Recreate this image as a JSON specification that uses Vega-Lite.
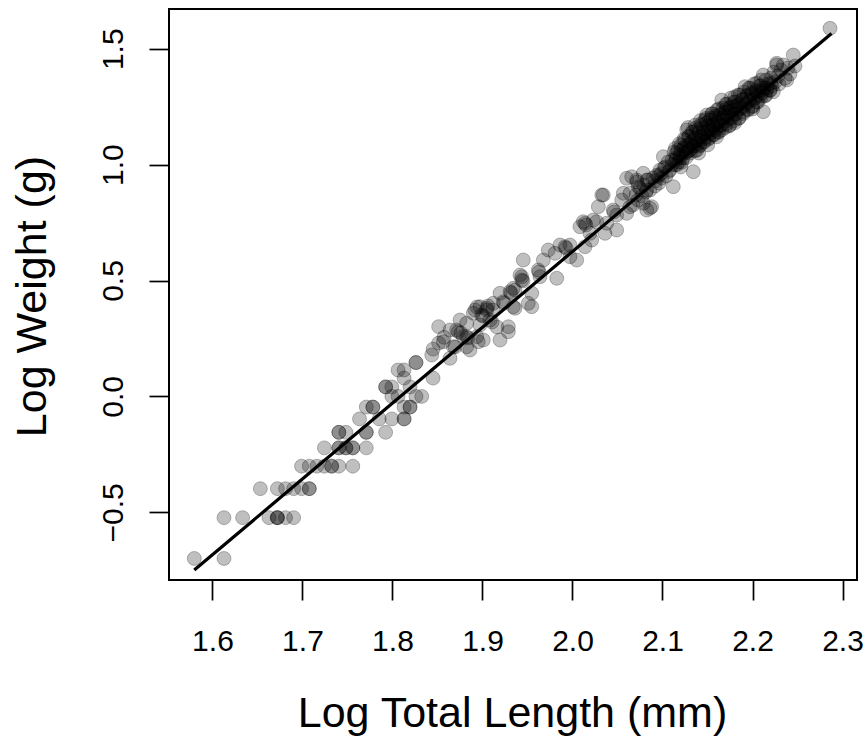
{
  "$schema": "https://vega.github.io/schema/vega-lite/v6.json",
  "width": 688,
  "height": 571,
  "autosize": {"type": "none"},
  "padding": {"left": 169, "top": 9, "right": 9, "bottom": 157},
  "background": "white",
  "config": {
    "font": "Liberation Sans",
    "view": {"stroke": "black", "strokeWidth": 2}
  },
  "datasets": {
    "pts": [
      {"x":1.5798,"y":-0.699},{"x":1.6128,"y":-0.699},
      {"x":1.6128,"y":-0.523},{"x":1.6335,"y":-0.523},{"x":1.6628,"y":-0.523},{"x":1.6721,"y":-0.523},{"x":1.6721,"y":-0.523},{"x":1.6721,"y":-0.523},{"x":1.6812,"y":-0.523},{"x":1.6902,"y":-0.523},
      {"x":1.6532,"y":-0.398},{"x":1.6721,"y":-0.398},{"x":1.6812,"y":-0.398},{"x":1.6902,"y":-0.398},{"x":1.699,"y":-0.398},{"x":1.7076,"y":-0.398},{"x":1.7076,"y":-0.398},
      {"x":1.699,"y":-0.301},{"x":1.7076,"y":-0.301},{"x":1.716,"y":-0.301},{"x":1.7243,"y":-0.301},{"x":1.7324,"y":-0.301},{"x":1.7324,"y":-0.301},{"x":1.7404,"y":-0.301},{"x":1.7559,"y":-0.301},
      {"x":1.7243,"y":-0.222},{"x":1.7404,"y":-0.222},{"x":1.7404,"y":-0.222},{"x":1.7482,"y":-0.222},{"x":1.7482,"y":-0.222},{"x":1.7559,"y":-0.222},{"x":1.7559,"y":-0.222},{"x":1.7709,"y":-0.222},
      {"x":1.7404,"y":-0.155},{"x":1.7404,"y":-0.155},{"x":1.7482,"y":-0.155},{"x":1.7709,"y":-0.155},{"x":1.7709,"y":-0.155},{"x":1.7924,"y":-0.155},
      {"x":1.7634,"y":-0.097},{"x":1.7853,"y":-0.097},{"x":1.7993,"y":-0.097},{"x":1.8129,"y":-0.097},{"x":1.8129,"y":-0.097},
      {"x":1.7709,"y":-0.046},{"x":1.7782,"y":-0.046},{"x":1.7782,"y":-0.046},{"x":1.8129,"y":-0.046},{"x":1.8195,"y":-0.046},{"x":1.8195,"y":-0.046},
      {"x":1.7993,"y":0},{"x":1.8062,"y":0},{"x":1.8261,"y":0},{"x":1.8325,"y":0},
      {"x":1.7924,"y":0.041},{"x":1.7924,"y":0.041},{"x":1.7993,"y":0.041},{"x":1.8195,"y":0.041},
      {"x":1.8129,"y":0.079},{"x":1.8451,"y":0.079},
      {"x":1.8062,"y":0.114},{"x":1.8129,"y":0.114},
      {"x":1.8261,"y":0.146},{"x":1.8261,"y":0.146},
      {"x":1.8451,"y":0.204},{"x":1.8513,"y":0.23},{"x":1.8573,"y":0.255},{"x":1.8513,"y":0.301},
      {"x":1.8436,"y":0.1786},{"x":1.8565,"y":0.236},{"x":1.8639,"y":0.1644},{"x":1.8676,"y":0.2144},{"x":1.8695,"y":0.2131},{"x":1.875,"y":0.3296},{"x":1.8731,"y":0.2791},{"x":1.8761,"y":0.2735},{"x":1.8824,"y":0.2576},{"x":1.8839,"y":0.2519},{"x":1.8861,"y":0.2002},{"x":1.8953,"y":0.236},{"x":1.8917,"y":0.3727},{"x":1.8991,"y":0.3512},{"x":1.9006,"y":0.3469},{"x":1.9047,"y":0.3801},{"x":1.9061,"y":0.39},{"x":1.9083,"y":0.3296},{"x":1.9106,"y":0.321},{"x":1.9195,"y":0.2433},{"x":1.9287,"y":0.2791},{"x":1.9195,"y":0.4448},{"x":1.9306,"y":0.4517},{"x":1.9317,"y":0.4461},{"x":1.9361,"y":0.3801},{"x":1.9436,"y":0.5022},{"x":1.945,"y":0.4979},{"x":1.9509,"y":0.4016},{"x":1.9417,"y":0.5237},{"x":1.9009,"y":0.2433},
      {"x":1.8639,"y":0.2865},{"x":1.8713,"y":0.2865},{"x":1.8787,"y":0.2576},{"x":1.8824,"y":0.3154},{"x":1.8898,"y":0.3585},{"x":1.8972,"y":0.387},{"x":1.9047,"y":0.3727},{"x":1.912,"y":0.4016},{"x":1.8936,"y":0.2576},{"x":1.8824,"y":0.2144},
      {"x":1.8939,"y":0.3857},{"x":1.9161,"y":0.2994},{"x":1.8972,"y":0.308},{"x":1.9117,"y":0.3727},{"x":1.9287,"y":0.3007},{"x":1.9231,"y":0.4085},{"x":1.9239,"y":0.4029},{"x":1.9342,"y":0.387},{"x":1.9547,"y":0.387},{"x":1.9342,"y":0.4663},{"x":1.9361,"y":0.459},{"x":1.9436,"y":0.5164},{"x":1.9453,"y":0.5884},{"x":1.9547,"y":0.4448},{"x":1.962,"y":0.5453},{"x":1.9628,"y":0.5367},{"x":1.9639,"y":0.5164},{"x":1.9676,"y":0.5884},{"x":1.9825,"y":0.5095},{"x":1.9806,"y":0.6174},{"x":1.9917,"y":0.6458},{"x":1.9928,"y":0.6402},{"x":1.9972,"y":0.6532},{"x":2.0047,"y":0.5884},{"x":2.0139,"y":0.6458},{"x":2.0139,"y":0.7468},{"x":2.015,"y":0.7394},{"x":2.0213,"y":0.6747},{"x":2.0269,"y":0.7537},{"x":2.0287,"y":0.8184},{"x":2.0342,"y":0.8689},{"x":2.0361,"y":0.7036},{"x":2.0491,"y":0.7179},{"x":2.0453,"y":0.8041},{"x":2.0461,"y":0.7955},{"x":2.0547,"y":0.8473},{"x":2.0565,"y":0.8762},{"x":2.0602,"y":0.9409},{"x":2.0713,"y":0.9336},{"x":2.0717,"y":0.925},{"x":2.0787,"y":0.9625},{"x":2.0825,"y":0.8904},{"x":2.0825,"y":0.8041},{"x":2.0639,"y":0.8184},{"x":2.0602,"y":0.7899},{"x":1.9731,"y":0.6316},{"x":1.9861,"y":0.6532},{"x":1.9972,"y":0.6027},{"x":2.0083,"y":0.7321},{"x":2.0195,"y":0.7036},{"x":2.038,"y":0.7468},{"x":2.0491,"y":0.7826},{"x":2.0639,"y":0.8762},{"x":2.0731,"y":0.9047},{"x":2.0825,"y":0.9336},{"x":2.0787,"y":0.833},{"x":2.012,"y":0.7537},{"x":2.0231,"y":0.761},{"x":2.0325,"y":0.8689},{"x":2.0861,"y":0.8115},
      {"x":2.0658,"y":0.9478},{"x":2.0672,"y":0.8257},{"x":2.0706,"y":0.8689},{"x":2.0728,"y":0.8473},{"x":2.075,"y":0.899},{"x":2.0772,"y":0.8645},{"x":2.0794,"y":0.912},{"x":2.0817,"y":0.8818},{"x":2.0839,"y":0.9336},{"x":2.0861,"y":0.8904},{"x":2.088,"y":0.8184},{"x":2.0894,"y":0.9422},{"x":2.0917,"y":0.9077},{"x":2.0939,"y":0.9551},{"x":2.0961,"y":0.9206},{"x":2.0972,"y":0.9767},{"x":2.1009,"y":1.0341},{"x":2.0994,"y":0.9422},{"x":2.1017,"y":0.9853},{"x":2.1039,"y":0.9508},{"x":2.1061,"y":1.0112},{"x":2.1083,"y":0.9767},{"x":2.112,"y":0.9047},
      {"x":2.1106,"y":1.0198},{"x":2.1128,"y":1.0544},{"x":2.1139,"y":0.9983},{"x":2.115,"y":1.0285},{"x":2.1172,"y":1.063},{"x":2.1183,"y":1.0112},{"x":2.1195,"y":1.0414},{"x":2.1206,"y":1.0846},{"x":2.1228,"y":1.0285},{"x":2.1239,"y":1.0716},{"x":2.125,"y":1.1061},{"x":2.1269,"y":1.1493},{"x":2.1272,"y":1.0544},{"x":2.1283,"y":1.0846},{"x":2.1295,"y":1.1234},{"x":2.1306,"y":1.063},{"x":2.1317,"y":1.0975},{"x":2.1328,"y":1.1406},{"x":2.1342,"y":0.9694},{"x":2.135,"y":1.0802},{"x":2.1361,"y":1.1148},{"x":2.1372,"y":1.1579},{"x":2.1383,"y":1.063},{"x":2.1395,"y":1.1061},{"x":2.1406,"y":1.1406},{"x":2.1417,"y":1.0846},{"x":2.1428,"y":1.1752},{"x":2.1439,"y":1.1234},{"x":2.145,"y":1.1579},{"x":2.1461,"y":1.0975},{"x":2.1472,"y":1.1924},{"x":2.1491,"y":1.214},{"x":2.1495,"y":1.1363},{"x":2.1506,"y":1.1665},{"x":2.1517,"y":1.1148},{"x":2.1528,"y":1.1924},{"x":2.1539,"y":1.1493},{"x":2.155,"y":1.2183},{"x":2.1561,"y":1.1708},{"x":2.1572,"y":1.1277},{"x":2.1583,"y":1.201},{"x":2.1595,"y":1.1579},{"x":2.1606,"y":1.2355},{"x":2.1617,"y":1.1838},{"x":2.1628,"y":1.1406},{"x":2.1639,"y":1.214},{"x":2.1658,"y":1.2787},{"x":2.1661,"y":1.1708},{"x":2.1672,"y":1.2442},{"x":2.1683,"y":1.201},
      {"x":2.1694,"y":1.2269},{"x":2.1706,"y":1.1752},{"x":2.1717,"y":1.2614},{"x":2.1728,"y":1.2097},{"x":2.1739,"y":1.1665},{"x":2.175,"y":1.2442},{"x":2.1761,"y":1.2873},{"x":2.1772,"y":1.201},{"x":2.1783,"y":1.2355},{"x":2.1794,"y":1.2701},{"x":2.1806,"y":1.2929},{"x":2.1817,"y":1.2183},{"x":2.1828,"y":1.2528},{"x":2.1842,"y":1.3003},{"x":2.185,"y":1.201},{"x":2.1861,"y":1.3003},{"x":2.1872,"y":1.2442},{"x":2.1883,"y":1.2787},{"x":2.1894,"y":1.2269},{"x":2.1906,"y":1.3132},{"x":2.1917,"y":1.3361},{"x":2.1928,"y":1.2614},{"x":2.1939,"y":1.2959},{"x":2.195,"y":1.2355},{"x":2.1961,"y":1.3305},{"x":2.1972,"y":1.2787},{"x":2.1972,"y":1.3292},{"x":2.1994,"y":1.3046},{"x":2.2006,"y":1.2528},{"x":2.2017,"y":1.3477},{"x":2.2028,"y":1.2873},{"x":2.2047,"y":1.3507},{"x":2.205,"y":1.3132},{"x":2.2061,"y":1.2701},{"x":2.2072,"y":1.3391},{"x":2.2083,"y":1.2959},{"x":2.2094,"y":1.365},{"x":2.2106,"y":1.3218},{"x":2.212,"y":1.2282},{"x":2.212,"y":1.3865},{"x":2.2128,"y":1.3305},{"x":2.2139,"y":1.2959},{"x":2.215,"y":1.365},{"x":2.2161,"y":1.3218},{"x":2.2172,"y":1.3477},{"x":2.2194,"y":1.3218},{"x":2.2206,"y":1.3736},{"x":2.2217,"y":1.3391},
      {"x":2.2231,"y":1.3145},{"x":2.2239,"y":1.3995},{"x":2.225,"y":1.3563},{"x":2.2269,"y":1.437},{"x":2.2269,"y":1.4297},{"x":2.2283,"y":1.3822},{"x":2.2294,"y":1.3477},{"x":2.2317,"y":1.4081},{"x":2.2342,"y":1.4297},{"x":2.2361,"y":1.3723},{"x":2.238,"y":1.365},{"x":2.2394,"y":1.4167},{"x":2.2417,"y":1.3909},{"x":2.2453,"y":1.4728},{"x":2.2472,"y":1.4254},{"x":2.2861,"y":1.588},
      {"x":2.0921,"y":0.93},{"x":2.0953,"y":0.95},{"x":2.0981,"y":0.96},{"x":2.1032,"y":0.99},{"x":2.1068,"y":0.97},{"x":2.1109,"y":1.0},
      {"x":2.1148,"y":1.02},{"x":2.1157,"y":1.05},{"x":2.1143,"y":1.07},{"x":2.1162,"y":1.0},
      {"x":2.1196,"y":1.03},{"x":2.1207,"y":1.06},{"x":2.1188,"y":1.09},{"x":2.1213,"y":1.01},
      {"x":2.1246,"y":1.05},{"x":2.1257,"y":1.08},{"x":2.1238,"y":1.11},{"x":2.1262,"y":1.03},
      {"x":2.1296,"y":1.06},{"x":2.1304,"y":1.09},{"x":2.1291,"y":1.12},{"x":2.1311,"y":1.05},
      {"x":2.1347,"y":1.08},{"x":2.1356,"y":1.11},{"x":2.1339,"y":1.14},{"x":2.1362,"y":1.06},
      {"x":2.1396,"y":1.09},{"x":2.1407,"y":1.12},{"x":2.1389,"y":1.15},{"x":2.1411,"y":1.08},
      {"x":2.1446,"y":1.11},{"x":2.1455,"y":1.14},{"x":2.1437,"y":1.17},{"x":2.1462,"y":1.1},
      {"x":2.1497,"y":1.12},{"x":2.1506,"y":1.15},{"x":2.1488,"y":1.18},{"x":2.1511,"y":1.11},
      {"x":2.1546,"y":1.14},{"x":2.1557,"y":1.17},{"x":2.1539,"y":1.2},{"x":2.1562,"y":1.13},
      {"x":2.1597,"y":1.15},{"x":2.1605,"y":1.18},{"x":2.1589,"y":1.21},{"x":2.1612,"y":1.14},
      {"x":2.1646,"y":1.17},{"x":2.1655,"y":1.2},{"x":2.1641,"y":1.22},{"x":2.1659,"y":1.15},
      {"x":2.1697,"y":1.16},{"x":2.1705,"y":1.19},{"x":2.1692,"y":1.22},{"x":2.1709,"y":1.24},
      {"x":2.1747,"y":1.17},{"x":2.1756,"y":1.2},{"x":2.1742,"y":1.23},{"x":2.1758,"y":1.25},
      {"x":2.1797,"y":1.19},{"x":2.1806,"y":1.22},{"x":2.1792,"y":1.25},{"x":2.1808,"y":1.27},
      {"x":2.1847,"y":1.2},{"x":2.1856,"y":1.24},{"x":2.1843,"y":1.26},
      {"x":2.1897,"y":1.22},{"x":2.1906,"y":1.25},{"x":2.1893,"y":1.28},
      {"x":2.1948,"y":1.24},{"x":2.1956,"y":1.27},{"x":2.1942,"y":1.3},
      {"x":2.1997,"y":1.25},{"x":2.2006,"y":1.28},{"x":2.1992,"y":1.31},
      {"x":2.2047,"y":1.27},{"x":2.2056,"y":1.3},{"x":2.2043,"y":1.32},
      {"x":2.2097,"y":1.29},{"x":2.2106,"y":1.31},{"x":2.2093,"y":1.34},
      {"x":2.2148,"y":1.3},{"x":2.2156,"y":1.33},
      {"x":2.2197,"y":1.32},{"x":2.2205,"y":1.35},
      {"x":2.1283,"y":1.16},{"x":2.1362,"y":1.17},{"x":2.1421,"y":1.19},{"x":2.1484,"y":1.2},{"x":2.1553,"y":1.22},{"x":2.1624,"y":1.24},{"x":2.1702,"y":1.26},
      {"x":2.1402,"y":1.05},{"x":2.1503,"y":1.085},{"x":2.1601,"y":1.12},{"x":2.1802,"y":1.18},{"x":2.2003,"y":1.24},{"x":2.1203,"y":0.99}
    ],
    "fit": [
      {"x":1.5798,"y":-0.749},
      {"x":2.2878,"y":1.566}
    ]
  },
  "layer": [
    {
      "data": {"name": "pts"},
      "mark": {"type": "circle", "size": 195, "fill": "black", "fillOpacity": 0.25, "stroke": "black", "strokeOpacity": 0.25, "strokeWidth": 1},
      "encoding": {
        "x": {
          "field": "x", "type": "quantitative",
          "scale": {"domain": [1.5517, 2.3161], "nice": false, "zero": false},
          "axis": {
            "title": "Log Total Length (mm)",
            "values": [1.6, 1.7, 1.8, 1.9, 2.0, 2.1, 2.2, 2.3],
            "format": ".1f",
            "domain": false, "grid": false,
            "tickSize": 20, "tickWidth": 1.7, "tickColor": "black",
            "labelFont": "Liberation Sans", "labelFontSize": 30, "labelColor": "black",
            "labelPadding": 50, "labelBaseline": "alphabetic", "labelAlign": "center",
            "labelFlush": false, "labelOverlap": false,
            "titleFont": "Liberation Sans", "titleFontSize": 43, "titleFontWeight": "normal", "titleColor": "black",
            "titleBaseline": "alphabetic", "titleAlign": "center", "titleX": 343, "titleY": 146.7
          }
        },
        "y": {
          "field": "y", "type": "quantitative",
          "scale": {"domain": [-0.792, 1.6713], "nice": false, "zero": false},
          "axis": {
            "title": "Log Weight (g)",
            "values": [-0.5, 0, 0.5, 1.0, 1.5],
            "format": ".1f",
            "domain": false, "grid": false,
            "tickSize": 20, "tickWidth": 1.7, "tickColor": "black",
            "labelFont": "Liberation Sans", "labelFontSize": 30, "labelColor": "black",
            "labelAngle": -90, "labelAlign": "center", "labelBaseline": "alphabetic",
            "labelPadding": 27, "labelFlush": false, "labelOverlap": false,
            "titleFont": "Liberation Sans", "titleFontSize": 43, "titleFontWeight": "normal", "titleColor": "black",
            "titleAngle": -90, "titleBaseline": "alphabetic", "titleAlign": "center", "titleX": -124, "titleY": 287
          }
        }
      }
    },
    {
      "data": {"name": "fit"},
      "mark": {"type": "line", "color": "black", "strokeWidth": 3.2},
      "encoding": {
        "x": {"field": "x", "type": "quantitative"},
        "y": {"field": "y", "type": "quantitative"}
      }
    }
  ]
}
